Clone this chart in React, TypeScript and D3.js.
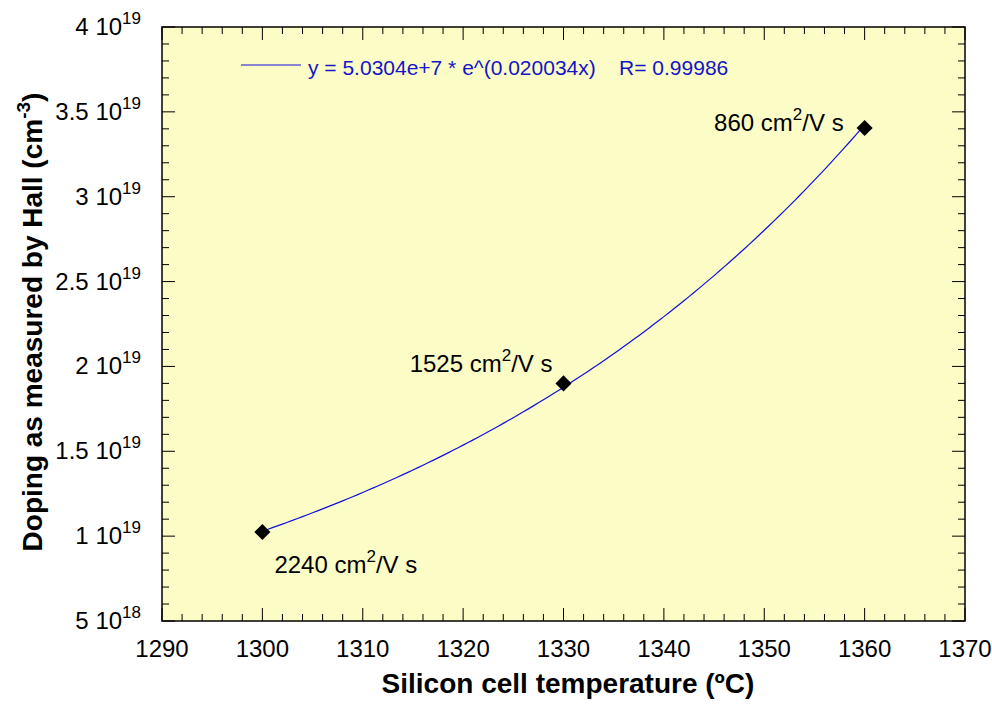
import { useEffect, useRef } from 'react';
import * as d3 from 'd3';

// measured points
const temps = [1300, 1330, 1360];
const doping = [1.024e19, 1.9e19, 3.405e19];
const mobilityLabels = ['2240', '1525', '860'];

// exponential fit shown in the legend
const fitA = 5.0304e7;
const fitB = 0.020034;
const fitLabel = 'y = 5.0304e+7 * e^(0.020034x)    R= 0.99986';

const xTicks = [1290, 1300, 1310, 1320, 1330, 1340, 1350, 1360, 1370];
const yTickMantissa = ['5', '1', '1.5', '2', '2.5', '3', '3.5', '4'];
const yTickExp = ['18', '19', '19', '19', '19', '19', '19', '19'];
const yTicks = [5e18, 1e19, 1.5e19, 2e19, 2.5e19, 3e19, 3.5e19, 4e19];

const App = () => {
  const svgRef = useRef<SVGSVGElement>(null);
  const width = 992;
  const height = 708;
  const margin = { top: 27, right: 27, bottom: 87, left: 162 };

  useEffect(() => {
    const svg = d3.select(svgRef.current);
    svg.selectAll('*').remove();

    const x = d3.scaleLinear().domain([1290, 1370]).range([margin.left, width - margin.right]);
    const y = d3.scaleLinear().domain([5e18, 4e19]).range([height - margin.bottom, margin.top]);
    const font = 'Liberation Sans, Arial, sans-serif';

    // plot background
    svg.append('rect')
      .attr('x', x(1290)).attr('y', y(4e19))
      .attr('width', x(1370) - x(1290)).attr('height', y(5e18) - y(4e19))
      .attr('fill', '#FCFCC6');

    const g = svg.append('g');
    const x0 = x(1290), x1 = x(1370), y0 = y(5e18), y1 = y(4e19);

    // ticks on all four sides, pointing in
    const xMinor = d3.range(1290, 1370.1, 2);
    xMinor.forEach(v => {
      const major = v % 10 === 0;
      const len = major ? 13 : 7;
      g.append('line').attr('x1', x(v)).attr('x2', x(v)).attr('y1', y0).attr('y2', y0 - len).attr('stroke', '#000');
      g.append('line').attr('x1', x(v)).attr('x2', x(v)).attr('y1', y1).attr('y2', y1 + len).attr('stroke', '#000');
    });
    const yMinor = d3.range(5e18, 4.01e19, 1e18);
    yMinor.forEach((v, i) => {
      const major = i % 5 === 0;
      const len = major ? 13 : 7;
      g.append('line').attr('y1', y(v)).attr('y2', y(v)).attr('x1', x0).attr('x2', x0 + len).attr('stroke', '#000');
      g.append('line').attr('y1', y(v)).attr('y2', y(v)).attr('x1', x1).attr('x2', x1 - len).attr('stroke', '#000');
    });

    g.append('rect')
      .attr('x', x0).attr('y', y1).attr('width', x1 - x0).attr('height', y0 - y1)
      .attr('fill', 'none').attr('stroke', '#000').attr('stroke-width', 1.5);

    // x tick labels
    g.selectAll('.xl').data(xTicks).join('text')
      .attr('x', d => x(d)).attr('y', y0 + 36)
      .attr('text-anchor', 'middle')
      .attr('font-family', font).attr('font-size', 24)
      .text(d => d);

    // y tick labels: mantissa 10^exp
    yTicks.forEach((v, i) => {
      const t = g.append('text')
        .attr('x', x0 - 21).attr('y', y(v) + 8)
        .attr('text-anchor', 'end')
        .attr('font-family', font).attr('font-size', 24);
      t.append('tspan').text(`${yTickMantissa[i]} 10`);
      t.append('tspan').attr('dy', -11).attr('font-size', 17).text(yTickExp[i]);
    });

    // fit curve
    const fitX = d3.range(1300, 1360.01, 0.5);
    const line = d3.line<number>().x(d => x(d)).y(d => y(fitA * Math.exp(fitB * d)));
    g.append('path').datum(fitX)
      .attr('d', line)
      .attr('fill', 'none').attr('stroke', '#1010E0').attr('stroke-width', 1.2);

    // markers
    const diamond = d3.symbol().type(d3.symbolDiamond2).size(165);
    temps.forEach((t, i) => {
      g.append('path')
        .attr('d', diamond)
        .attr('transform', `translate(${x(t)},${y(doping[i])})`)
        .attr('fill', '#000');
    });

    // mobility annotations
    const annPos = [
      { dx: 12, dy: 41, anchor: 'start' },
      { dx: -11, dy: -11, anchor: 'end' },
      { dx: -21, dy: 3, anchor: 'end' },
    ];
    temps.forEach((t, i) => {
      const p = annPos[i];
      const txt = g.append('text')
        .attr('x', x(t) + p.dx).attr('y', y(doping[i]) + p.dy)
        .attr('text-anchor', p.anchor)
        .attr('font-family', font).attr('font-size', 24);
      txt.append('tspan').text(`${mobilityLabels[i]} cm`);
      txt.append('tspan').attr('dy', -11).attr('font-size', 17).text('2');
      txt.append('tspan').attr('dy', 11).text('/V s');
    });

    // legend
    g.append('line').attr('x1', 241).attr('x2', 301).attr('y1', 65).attr('y2', 65)
      .attr('stroke', '#1010E0').attr('stroke-width', 1);
    g.append('text')
      .attr('x', 308).attr('y', 75)
      .attr('font-family', font).attr('font-size', 21)
      .attr('fill', '#1414C8')
      .attr('xml:space', 'preserve')
      .style('white-space', 'pre')
      .text(fitLabel);

    // axis titles
    g.append('text')
      .attr('x', 568).attr('y', 693)
      .attr('text-anchor', 'middle')
      .attr('font-family', font).attr('font-size', 28).attr('font-weight', 'bold')
      .text('Silicon cell temperature (ºC)');

    const yt = g.append('text')
      .attr('transform', `translate(42,${(y0 + y1) / 2 - 2}) rotate(-90)`)
      .attr('text-anchor', 'middle')
      .attr('font-family', font).attr('font-size', 28).attr('font-weight', 'bold');
    yt.append('tspan').text('Doping as measured by Hall (cm');
    yt.append('tspan').attr('dy', -12).attr('font-size', 19).text('-3');
    yt.append('tspan').attr('dy', 12).text(')');
  }, []);

  return (
    <svg ref={svgRef} width={width} height={height}
      style={{ position: 'absolute', left: 0, top: 0, background: '#fff' }} />
  );
};

export default App;
